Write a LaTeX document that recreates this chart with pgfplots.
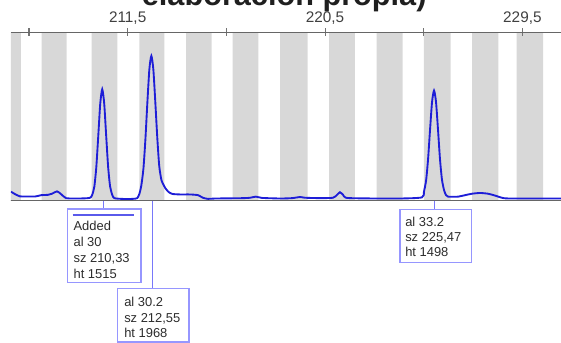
\documentclass[border=0pt]{standalone}
\usepackage{fontspec}
\setmainfont{Liberation Sans}
\usepackage{pgfplots}
\pgfplotsset{compat=1.18}
\definecolor{bandgray}{RGB}{216,216,216}
\definecolor{tracecol}{RGB}{30,30,215}
\definecolor{boxcol}{RGB}{150,150,255}
\definecolor{linecol}{RGB}{120,120,250}
\definecolor{innercol}{RGB}{90,90,235}
\definecolor{txt}{RGB}{45,45,45}
\newcommand\boxfont{\fontsize{9.7}{12}\selectfont}
\begin{document}
\begin{tikzpicture}
\begin{axis}[
  scale only axis, width=412.5pt, height=126.3pt,
  xmin=206.18, xmax=231.26, ymin=0, ymax=2290,
  hide y axis,
  axis on top=true,
  axis line style={draw=black!60, line width=1.1pt},
  xtick={207,211.5,216,220.5,225,229.5},
  xticklabels={,{211,5},,{220,5},,{229,5}},
  xtick pos=right, xticklabel pos=right,
  tick align=center, major tick length=6pt,
  tick style={black!55, line width=0.8pt},
  xticklabel style={font=\fontsize{11.5}{13}\selectfont, text=black!75, yshift=-0.8pt},
]
\addplot[const plot, fill=bandgray, draw=none] coordinates {
(206.18,2290) (206.63,0) (207.58,2290) (208.72,0) (209.86,2290) (211.03,0)
(212.03,2290) (213.17,0) (214.16,2290) (215.33,0) (216.29,2290) (217.46,0)
(218.45,2290) (219.71,0) (220.69,2290) (221.86,0) (222.85,2290) (224.04,0)
(225.01,2290) (226.23,0) (227.21,2290) (228.40,0) (229.24,2290) (230.45,0)
(231.26,0)} \closedcycle;
\addplot[tracecol, line width=1.4pt, smooth, tension=0.4] table {
x y
206.18 123
206.36 90
206.59 59
206.90 57
207.30 58
207.55 75
207.87 80
208.05 95
208.28 127
208.46 90
208.69 35
209.10 30
209.55 32
209.79 40
209.88 77
209.98 192
210.07 457
210.16 884
210.25 1323
210.34 1515
210.43 1323
210.52 884
210.61 457
210.70 192
210.80 77
210.89 35
211.20 25
211.60 23
211.85 28
211.94 35
212.03 89
212.12 201
212.22 440
212.31 840
212.40 1344
212.49 1789
212.58 1968
212.67 1789
212.76 1344
212.85 860
212.94 470
213.04 280
213.13 220
213.22 170
213.36 120
213.54 92
213.89 85
214.34 85
214.71 75
214.93 40
215.16 25
215.50 30
216.17 32
216.80 35
217.08 40
217.35 55
217.62 38
218.45 30
219.00 35
219.36 50
219.59 40
220.27 35
220.86 40
221.05 80
221.18 115
221.32 80
221.45 40
222.09 32
223.92 30
224.92 45
225.01 122
225.11 280
225.20 572
225.29 973
225.38 1344
225.47 1498
225.56 1344
225.65 973
225.74 572
225.83 290
225.93 140
226.02 75
226.11 55
226.56 55
226.88 75
227.20 95
227.57 105
227.93 95
228.25 70
228.57 40
228.93 30
231.26 30
};
\end{axis}
\begin{scope}[xshift=-8.25pt, yshift=150.525pt, x=0.75pt, y=-0.75pt]
\node[anchor=base, inner sep=0, font=\bfseries\fontsize{23}{26}\selectfont, text=black!88] at (284.2,5.5) {elaboración propia)};
% connector lines
\draw[linecol, line width=1pt] (103.3,200.7) -- (103.3,209);
\draw[linecol, line width=1pt] (152.3,200.7) -- (152.3,288.3);
\draw[linecol, line width=1pt] (434.3,200.7) -- (434.3,209.3);
% box 1
\draw[boxcol, line width=1pt, fill=white] (67.3,209) rectangle (141,282.3);
\draw[innercol, line width=1.2pt] (72.7,215) -- (134,215);
\node[anchor=base west, inner sep=0, font=\boxfont, text=txt] at (73.3,230) {Added};
\node[anchor=base west, inner sep=0, font=\boxfont, text=txt] at (73.3,246.5) {al 30};
\node[anchor=base west, inner sep=0, font=\boxfont, text=txt] at (73.3,262.5) {sz 210,33};
\node[anchor=base west, inner sep=0, font=\boxfont, text=txt] at (73.3,278.3) {ht 1515};
% box 2
\draw[boxcol, line width=1pt, fill=white] (117.3,288.3) rectangle (189,342);
\node[anchor=base west, inner sep=0, font=\boxfont, text=txt] at (124,306.5) {al 30.2};
\node[anchor=base west, inner sep=0, font=\boxfont, text=txt] at (124,322) {sz 212,55};
\node[anchor=base west, inner sep=0, font=\boxfont, text=txt] at (124,337.5) {ht 1968};
% box 3
\draw[boxcol, line width=1pt, fill=white] (400,209.3) rectangle (471.7,262.7);
\node[anchor=base west, inner sep=0, font=\boxfont, text=txt] at (405,226) {al 33.2};
\node[anchor=base west, inner sep=0, font=\boxfont, text=txt] at (405,241) {sz 225,47};
\node[anchor=base west, inner sep=0, font=\boxfont, text=txt] at (405,256.5) {ht 1498};
\end{scope}
\pgfresetboundingbox
\path[use as bounding box] (-8.25pt,-106.725pt) rectangle (412.5pt,150.525pt);
\end{tikzpicture}
\end{document}
